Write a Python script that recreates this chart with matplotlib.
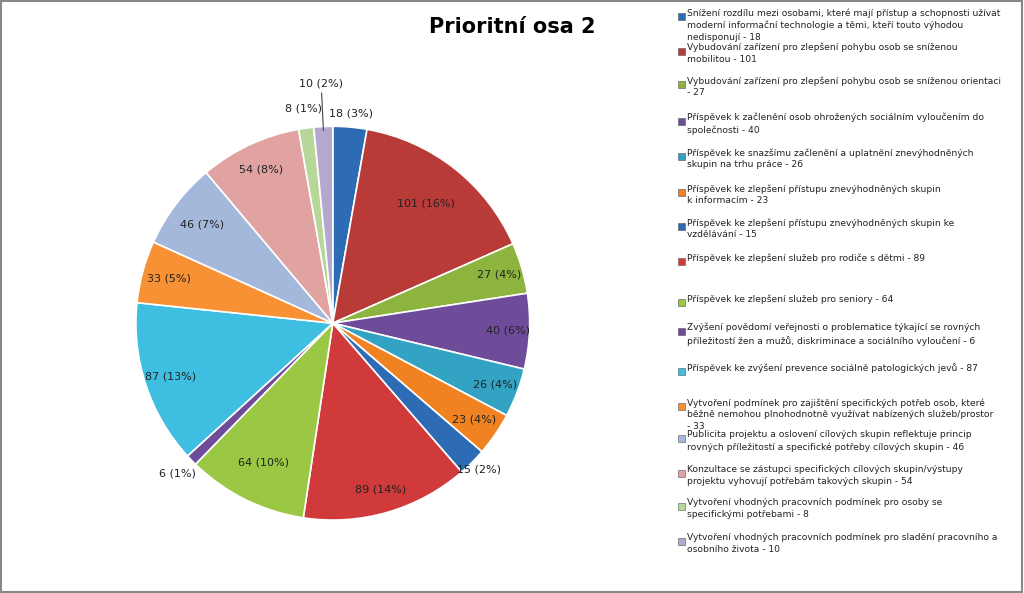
import matplotlib.pyplot as plt
import numpy as np

labels = [
    "Snížení rozdílu mezi osobami, které mají přístup a schopnosti užívat\nmoderní informační technologie a těmi, kteří touto výhodou\nnedisponují - 18",
    "Vybudování zařízení pro zlepšení pohybu osob se sníženou\nmobilitou - 101",
    "Vybudování zařízení pro zlepšení pohybu osob se sníženou orientaci\n- 27",
    "Příspěvek k začlenění osob ohrožených sociálním vyloučením do\nspolečnosti - 40",
    "Příspěvek ke snazšímu začlenění a uplatnění znevýhodněných\nskupin na trhu práce - 26",
    "Příspěvek ke zlepšení přístupu znevýhodněných skupin\nk informacím - 23",
    "Příspěvek ke zlepšení přístupu znevýhodněných skupin ke\nvzdělávání - 15",
    "Příspěvek ke zlepšení služeb pro rodiče s dětmi - 89",
    "Příspěvek ke zlepšení služeb pro seniory - 64",
    "Zvýšení povědomí veřejnosti o problematice týkající se rovných\npříležitostí žen a mužů, diskriminace a sociálního vyloučení - 6",
    "Příspěvek ke zvýšení prevence sociálně patologických jevů - 87",
    "Vytvoření podmínek pro zajištění specifických potřeb osob, které\nběžně nemohou plnohodnotně využívat nabízených služeb/prostor\n- 33",
    "Publicita projektu a oslovení cílových skupin reflektuje princip\nrovných příležitostí a specifické potřeby cílových skupin - 46",
    "Konzultace se zástupci specifických cílových skupin/výstupy\nprojektu vyhovují potřebám takových skupin - 54",
    "Vytvoření vhodných pracovních podmínek pro osoby se\nspecifickými potřebami - 8",
    "Vytvoření vhodných pracovních podmínek pro sladění pracovního a\nosobního života - 10",
]
values = [18, 101, 27, 40, 26, 23, 15, 89, 64, 6, 87, 33, 46, 54, 8, 10]
colors = ["#2E6BB5", "#B83B38", "#8DB43E", "#6E4C9A", "#33A3C4", "#F08222",
          "#2E6BB5", "#D03A3A", "#9AC844", "#6E4C9A", "#3EBEE0", "#F79133",
          "#A4B8DC", "#E0A3A1", "#B7D69A", "#B4A8CF"]
label_r = [1.07, 0.77, 0.88, 0.89, 0.88, 0.87, 1.05, 0.88, 0.79, 1.1, 0.87, 0.86, 0.83, 0.86, 1.1, 1.22]
legend_y = [10, 45, 78, 115, 150, 186, 220, 255, 296, 325, 365, 400, 432, 467, 500, 535]

fig = plt.figure(figsize=(10.24, 5.93), dpi=100)
fig.patches.append(plt.Rectangle((0.001, 0.002), 0.997, 0.996, transform=fig.transFigure,
                                 fill=False, edgecolor="#888888", lw=1.5))
ax = fig.add_axes([0.076, 0.04, 0.498, 0.83])
wedges, _ = ax.pie(values, colors=colors, startangle=90, counterclock=False,
                   wedgeprops=dict(edgecolor="white", linewidth=1.2))
ax.set_aspect("equal")
total = sum(values)
for w, v, r in zip(wedges, values, label_r):
    ang = np.deg2rad((w.theta1 + w.theta2) / 2)
    x, y = r * np.cos(ang), r * np.sin(ang)
    ax.text(x, y, "%d (%d%%)" % (v, round(v / total * 100)), ha="center", va="center",
            fontsize=8, color="#222222")
# leader line for the last slice
w = wedges[-1]
ang = np.deg2rad((w.theta1 + w.theta2) / 2)
ax.plot([0.98 * np.cos(ang), 1.17 * np.cos(ang)], [0.98 * np.sin(ang), 1.17 * np.sin(ang)],
        color="#444444", lw=0.8)

fig.text(0.5, 0.955, "Prioritní osa 2", ha="center", va="center", fontsize=15, fontweight="bold")

for lab, c, yp in zip(labels, colors, legend_y):
    yf = 1 - (yp + 6) / 593
    fig.patches.append(plt.Rectangle((0.662, yf - 0.007), 0.0065, 0.012,
                                     transform=fig.transFigure, facecolor=c, edgecolor="#555555", lw=0.4))
    fig.text(0.671, 1 - (yp - 2) / 593, lab, ha="left", va="top", fontsize=6.6,
             color="#222222", linespacing=1.4)

plt.savefig("out.png", dpi=100)
